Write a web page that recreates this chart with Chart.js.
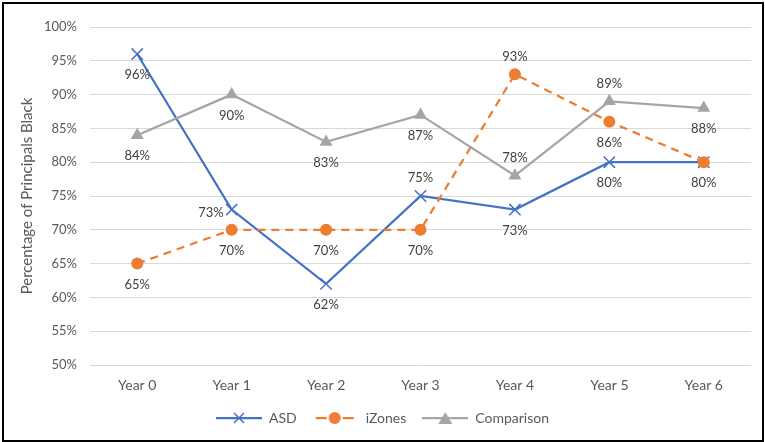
<!DOCTYPE html>
<html>
<head>
<meta charset="utf-8">
<script src="https://cdn.jsdelivr.net/npm/chart.js@4.4.0/dist/chart.umd.min.js"></script>
<style>
  html, body { margin: 0; padding: 0; background: #fff; }
  #wrap { width: 765px; height: 442px; }
</style>
</head>
<body>
<div id="wrap"><canvas id="chart" width="765" height="442"></canvas></div>
<script>
const years = ['Year 0', 'Year 1', 'Year 2', 'Year 3', 'Year 4', 'Year 5', 'Year 6'];
const asd = [96, 73, 62, 75, 73, 80, 80];
const izones = [65, 70, 70, 70, 93, 86, 80];
const comparison = [84, 90, 83, 87, 78, 89, 88];

const BLUE = '#4472C4';
const ORANGE = '#ED7D31';
const GREY = '#A5A5A5';
const TEXT = '#595959';
const FONT = 'Lato';

// legend swatch: line + marker, like Excel
function swatch(color, dash, marker) {
    const c = document.createElement('canvas');
    c.width = 46; c.height = 16;
    const g = c.getContext('2d');
    g.strokeStyle = color;
    g.fillStyle = color;
    g.lineWidth = 2.25;
    g.beginPath();
    if (dash.length) {
        g.moveTo(3, 8); g.lineTo(14, 8);
        g.moveTo(30, 8); g.lineTo(41, 8);
    } else {
        g.moveTo(0, 8); g.lineTo(46, 8);
    }
    g.stroke();
    g.beginPath();
    if (marker === 'x') {
        g.lineWidth = 1.5;
        g.moveTo(18, 3); g.lineTo(28, 13);
        g.moveTo(28, 3); g.lineTo(18, 13);
        g.stroke();
    } else if (marker === 'o') {
        g.arc(22, 8, 6, 0, Math.PI * 2);
        g.fill();
    } else {
        g.moveTo(23, 2); g.lineTo(30, 14); g.lineTo(16, 14);
        g.closePath();
        g.fill();
    }
    return c;
}

const dataLabels = {
    id: 'dataLabels',
    afterDatasetsDraw(chart) {
        const ctx = chart.ctx;
        ctx.save();
        ctx.font = '13px ' + FONT;
        ctx.fillStyle = '#404040';
        ctx.textBaseline = 'middle';
        chart.data.datasets.forEach((ds, i) => {
            const meta = chart.getDatasetMeta(i);
            meta.data.forEach((pt, j) => {
                const pos = ds.labelPos[j];
                if (!pos) return;
                let x = pt.x, y = pt.y;
                ctx.textAlign = 'center';
                if (pos === 'b') y += 21;
                else if (pos === 't') y -= 18;
                else if (pos === 'l') { ctx.textAlign = 'right'; x -= 8; y += 3; }
                ctx.fillText(ds.data[j] + '%', x, y);
            });
        });
        ctx.restore();
    }
};

const frame = {
    id: 'frame',
    beforeDraw(chart) {
        const ctx = chart.ctx;
        ctx.save();
        ctx.fillStyle = '#fff';
        ctx.fillRect(0, 0, chart.width, chart.height);
        ctx.restore();
    },
    afterDraw(chart) {
        const ctx = chart.ctx;
        ctx.save();
        ctx.strokeStyle = '#000';
        ctx.lineWidth = 2;
        ctx.strokeRect(3, 3, chart.width - 5, chart.height - 4);
        ctx.restore();
    }
};

const swatches = [
    swatch(BLUE, [], 'x'),
    swatch(ORANGE, [8, 5], 'o'),
    swatch(GREY, [], 't')
];

new Chart(document.getElementById('chart'), {
    type: 'line',
    data: {
        labels: years,
        datasets: [
            {
                label: 'ASD',
                data: asd,
                borderColor: BLUE,
                backgroundColor: BLUE,
                borderWidth: 2.25,
                pointStyle: 'crossRot',
                pointRadius: 8,
                pointBorderWidth: 1.5,
                order: 2,
                labelPos: ['b', 'l', 'b', 't', 'b', 'b', 'b']
            },
            {
                label: 'iZones',
                data: izones,
                borderColor: ORANGE,
                backgroundColor: ORANGE,
                borderWidth: 2.25,
                borderDash: [8, 6],
                pointStyle: 'circle',
                pointRadius: 6,
                pointBorderWidth: 0,
                order: 1,
                labelPos: ['b', 'b', 'b', 'b', 't', 'b', null]
            },
            {
                label: 'Comparison',
                data: comparison,
                borderColor: GREY,
                backgroundColor: GREY,
                borderWidth: 2.25,
                pointStyle: 'triangle',
                pointRadius: 7.5,
                pointBorderWidth: 0,
                order: 0,
                labelPos: ['b', 'b', 'b', 'b', 't', 't', 'b']
            }
        ]
    },
    options: {
        responsive: false,
        animation: false,
        layout: { padding: { left: 14, right: 14, top: 27, bottom: 7 } },
        plugins: {
            tooltip: { enabled: false },
            legend: {
                position: 'bottom',
                labels: {
                    usePointStyle: true,
                    pointStyleWidth: 46,
                    padding: 16,
                    color: TEXT,
                    font: { family: FONT, size: 14 },
                    generateLabels: (chart) => chart.data.datasets.map((ds, i) => ({
                        text: ds.label,
                        pointStyle: swatches[i],
                        fillStyle: ds.borderColor,
                        strokeStyle: ds.borderColor,
                        lineWidth: 0,
                        fontColor: TEXT,
                        hidden: false,
                        datasetIndex: i
                    }))
                }
            }
        },
        scales: {
            x: {
                offset: true,
                grid: { display: false, drawTicks: false },
                border: { display: false },
                ticks: { color: TEXT, padding: 12, font: { family: FONT, size: 14 } },
                afterFit: (scale) => { scale.height = 30; }
            },
            y: {
                min: 50,
                max: 100,
                grid: { color: '#D9D9D9', lineWidth: 1, drawTicks: false },
                border: { display: false },
                ticks: {
                    stepSize: 5,
                    color: TEXT,
                    padding: 13,
                    font: { family: FONT, size: 13 },
                    callback: (v) => v + '%'
                },
                title: {
                    display: true,
                    text: 'Percentage of Principals Black',
                    color: TEXT,
                    font: { family: FONT, size: 15 },
                    padding: { top: 4, bottom: 4 }
                },
                afterFit: (scale) => { scale.width = 76; }
            }
        }
    },
    plugins: [frame, dataLabels]
});
</script>
</body>
</html>
